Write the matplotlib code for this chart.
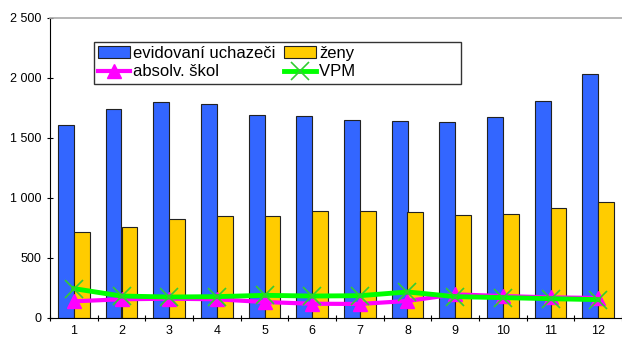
import numpy as np
import matplotlib.pyplot as plt
from matplotlib.ticker import FuncFormatter, FixedLocator

plt.rcParams['font.family'] = ['Liberation Sans', 'DejaVu Sans']

# data
mesice = ['1', '2', '3', '4', '5', '6', '7', '8', '9', '10', '11', '12']
uchazeci = [1610, 1738, 1803, 1783, 1694, 1683, 1650, 1644, 1633, 1675, 1808, 2035]
zeny = [717, 758, 822, 853, 853, 895, 895, 883, 861, 867, 920, 970]
absolventi = [139, 156, 161, 156, 133, 119, 117, 142, 197, 183, 172, 167]
vpm = [245, 183, 175, 178, 189, 183, 186, 217, 178, 170, 161, 153]

x = np.arange(len(mesice))
w = 0.33

fig = plt.figure(figsize=(6.22, 3.38), dpi=100)
ax = fig.add_axes([50 / 622, 1 - 318 / 338, 572 / 622, 300 / 338])

ax.bar(x - w / 2, uchazeci, w, color='#3366ff', edgecolor='#222222', lw=0.8,
       label='evidovaní uchazeči', zorder=2)
ax.bar(x + w / 2, zeny, w, color='#ffcc00', edgecolor='#222222', lw=0.8,
       label='ženy', zorder=2)
ax.plot(x, absolventi, color='#ff00ff', lw=3, marker='^', ms=10,
        label='absolv. škol', zorder=3)
ax.plot(x, vpm, color='#00ff00', lw=3.5, marker='x', ms=13, mew=1.2,
        mec='#33cc33', label='VPM', zorder=4)

ax.set_xlim(-0.5, len(mesice) - 0.5)
ax.set_ylim(0, 2500)
ax.set_yticks([0, 500, 1000, 1500, 2000, 2500])
ax.yaxis.set_major_formatter(FuncFormatter(lambda v, p: f'{int(v):,}'.replace(',', ' ')))
ax.set_xticks(x)
ax.set_xticklabels(mesice)
ax.xaxis.set_minor_locator(FixedLocator(np.arange(-0.5, len(mesice), 1)))
ax.tick_params(axis='x', which='major', length=0, labelsize=9, pad=5)
ax.tick_params(axis='x', which='minor', length=5, direction='inout', width=0.8)
ax.tick_params(axis='y', length=5, labelsize=9, direction='inout', width=0.8)

ax.spines['right'].set_visible(False)
ax.spines['top'].set_color('#aaaaaa')
ax.spines['top'].set_linewidth(1.2)

h, l = ax.get_legend_handles_labels()
# the original legend box has a wide empty space on the right
l[1] = l[1] + ' ' * 22
leg = ax.legend([h[i] for i in [2, 0, 3, 1]], [l[i] for i in [2, 0, 3, 1]],
                ncol=2, loc='upper left', bbox_to_anchor=(44 / 572, 1 - 24 / 300),
                borderaxespad=0, fontsize=12, frameon=True, fancybox=False,
                edgecolor='black', borderpad=0.25, handlelength=1.9,
                handletextpad=0.2, columnspacing=0.5, labelspacing=0.2)
leg.get_frame().set_linewidth(1)

fig.savefig('out.png', dpi=100)
